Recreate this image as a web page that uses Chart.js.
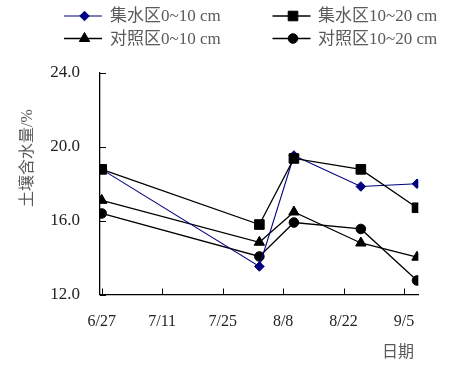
<!DOCTYPE html>
<html>
<head>
<meta charset="utf-8">
<script src="https://cdn.jsdelivr.net/npm/chart.js@4/dist/chart.umd.min.js"></script>
<style>
  html, body { margin: 0; padding: 0; background: #fff; }
  canvas { display: block; }
</style>
</head>
<body>
<canvas id="c" width="453" height="368"></canvas>
<script>
// ---- data ----
const sampleDays = [0, 36.5, 44.5, 60, 73];          // days after 6/27
const tickDays = [0, 14, 28, 42, 56, 70];
const tickLabels = ['6/27', '7/11', '7/25', '8/8', '8/22', '9/5'];
const seriesNames = ['集水区0~10 cm', '集水区10~20 cm', '对照区0~10 cm', '对照区10~20 cm'];
const jishui0_10 = [18.78, 13.52, 19.53, 17.85, 18.0];
const jishui10_20 = [18.78, 15.79, 19.37, 18.78, 16.7];
const duizhao0_10 = [17.1, 14.83, 16.47, 14.79, 14.02];
const duizhao10_20 = [16.39, 14.06, 15.9, 15.55, 12.76];
const yTitle = '土壤含水量/%';
const xTitle = '日期';

const seriesValues = [jishui0_10, jishui10_20, duizhao0_10, duizhao10_20];
const styles = [
  { color: '#000080', pointStyle: 'rectRot', radius: 4.8, width: 1.1, order: 1 },
  { color: '#000000', pointStyle: 'rect', radius: 6.8, width: 1.3, order: 0 },
  { color: '#000000', pointStyle: 'triangle', radius: 6, width: 1.3, order: 2 },
  { color: '#000000', pointStyle: 'circle', radius: 4.8, width: 1.3, order: 3 }
];

const datasets = seriesValues.map((vals, i) => ({
  label: seriesNames[i],
  data: vals.map((v, j) => ({ x: sampleDays[j], y: v })),
  borderColor: styles[i].color,
  backgroundColor: styles[i].color,
  pointBackgroundColor: styles[i].color,
  pointBorderColor: styles[i].color,
  pointStyle: styles[i].pointStyle,
  pointRadius: styles[i].radius,
  pointBorderWidth: 1,
  borderWidth: styles[i].width,
  order: styles[i].order,
  tension: 0,
  fill: false
}));

const SERIF = '"Liberation Serif", "Times New Roman", serif';
const CJK = '"Liberation Serif", "Noto Sans CJK SC", serif';

const decor = {
  id: 'decor',
  afterDraw(chart) {
    const ctx = chart.ctx;
    const xs = chart.scales.x, ys = chart.scales.y;
    const area = chart.chartArea;
    ctx.save();
    // inward ticks
    ctx.strokeStyle = '#000';
    ctx.lineWidth = 1;
    ctx.beginPath();
    ys.ticks.forEach(t => {
      const py = Math.round(ys.getPixelForValue(t.value)) + 0.5;
      ctx.moveTo(area.left, py); ctx.lineTo(area.left + 6, py);
    });
    xs.ticks.forEach(t => {
      const px = Math.round(xs.getPixelForValue(t.value)) + 0.5;
      ctx.moveTo(px, area.bottom); ctx.lineTo(px, area.bottom - 6);
    });
    ctx.stroke();

    // axis titles
    ctx.fillStyle = '#5a5a5a';
    ctx.font = '16px ' + CJK;
    ctx.textAlign = 'center';
    ctx.textBaseline = 'middle';
    ctx.save();
    ctx.translate(28, 158);
    ctx.rotate(-Math.PI / 2);
    ctx.fillText(yTitle, 0, 0);
    ctx.restore();
    ctx.fillText(xTitle, 398, 353);

    // legend
    const colLine = [64, 272.5];
    const colText = [110, 318];
    const rowY = [16, 38.5];
    ctx.font = '17px ' + CJK;
    ctx.textAlign = 'left';
    chart.data.datasets.forEach((ds, i) => {
      const col = i % 2, row = Math.floor(i / 2);
      const y = rowY[row];
      const x0 = colLine[col], x1 = x0 + 38;
      ctx.strokeStyle = ds.borderColor;
      ctx.lineWidth = ds.borderWidth;
      ctx.beginPath();
      ctx.moveTo(x0, y); ctx.lineTo(x1, y);
      ctx.stroke();
      ctx.fillStyle = ds.pointBackgroundColor;
      ctx.strokeStyle = ds.pointBorderColor;
      ctx.lineWidth = 1;
      if (Chart.helpers && Chart.helpers.drawPoint) {
        Chart.helpers.drawPoint(ctx, { pointStyle: ds.pointStyle, radius: ds.pointRadius, rotation: 0, borderWidth: 1 }, (x0 + x1) / 2 + 1.5, y);
      }
      ctx.fillStyle = '#5a5a5a';
      ctx.textBaseline = 'middle';
      ctx.fillText(ds.label, colText[col], y + 1);
    });
    ctx.restore();
  }
};

new Chart(document.getElementById('c'), {
  type: 'line',
  data: { datasets },
  options: {
    responsive: false,
    animation: false,
    devicePixelRatio: 1,
    layout: { padding: { top: 73, right: 34.7, left: 0, bottom: 0 } },
    plugins: { legend: { display: false }, tooltip: { enabled: false }, title: { display: false } },
    scales: {
      x: {
        type: 'linear',
        min: -0.4,
        max: 73.3,
        grid: { display: false, drawTicks: false, tickLength: 0 },
        border: { display: true, color: '#000', width: 1.3 },
        afterBuildTicks(scale) { scale.ticks = tickDays.map(v => ({ value: v })); },
        afterFit(scale) { scale.height = 368 - 294.5; },
        ticks: {
          autoSkip: false,
          maxRotation: 0,
          padding: 18,
          color: '#222',
          font: { family: SERIF, size: 16 },
          callback(v) { const k = tickDays.indexOf(v); return k >= 0 ? tickLabels[k] : ''; }
        }
      },
      y: {
        min: 12,
        max: 24,
        grid: { display: false, drawTicks: false, tickLength: 0 },
        border: { display: true, color: '#000', width: 1.3 },
        afterFit(scale) { scale.width = 100; },
        ticks: {
          stepSize: 4,
          padding: 20,
          crossAlign: 'near',
          color: '#222',
          font: { family: SERIF, size: 17 },
          callback(v) { return Number(v).toFixed(1); }
        }
      }
    }
  },
  plugins: [decor]
});
</script>
</body>
</html>
